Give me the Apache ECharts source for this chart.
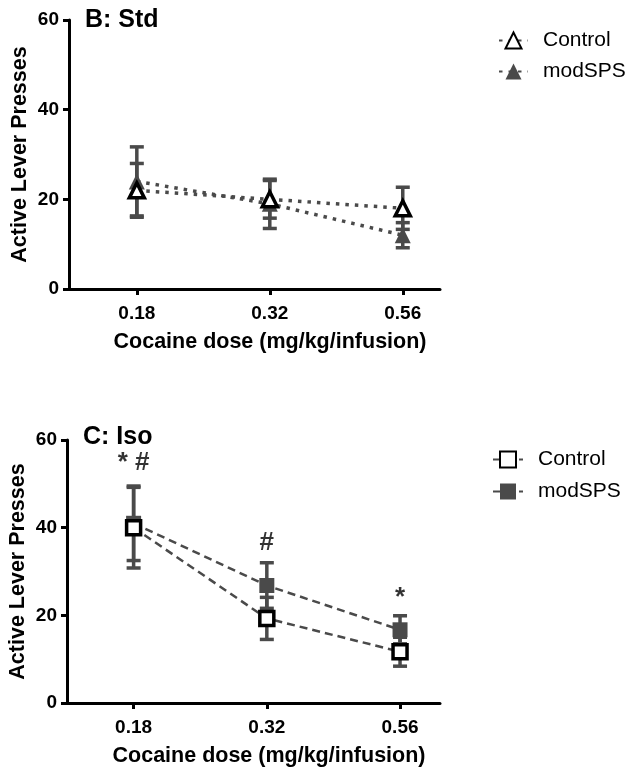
<!DOCTYPE html>
<html><head><meta charset="utf-8">
<script src="https://cdn.jsdelivr.net/npm/echarts@6/dist/echarts.min.js"></script>
<style>html,body{margin:0;padding:0;background:#fff}#c{width:637px;height:776px}</style>
</head><body><div id="c"></div>
<script>
const doses = ['0.18', '0.32', '0.56'];
const xPos = [1, 2, 3];
const yTicks = [0, 20, 40, 60];
// Panel B: Std
const stdControlMean = [22, 20, 18];
const stdControlErr = [6, 4.2, 4.7];
const stdModMean = [24, 19, 12];
const stdModErr = [7.7, 5.5, 2.8];
// Panel C: Iso
const isoControlMean = [40, 19.3, 11.7];
const isoControlErr = [9.2, 4.8, 3.3];
const isoModMean = [41, 26.8, 16.7];
const isoModErr = [8.5, 5.2, 3.2];
const isoAnnotText = ['* #', '#', '*'];
const isoAnnotY = [54.8, 36.6, 24];

const FONT = '"Liberation Sans", Arial, sans-serif';
const GREY = '#4a4a4a';

function pts(mean) { return xPos.map((x, i) => [x, mean[i]]); }
function errs(mean, err) { return xPos.map((x, i) => [x, mean[i] - err[i], mean[i] + err[i]]); }

function errSeries(name, idx, mean, err) {
  return {
    type: 'custom', name: name, xAxisIndex: idx, yAxisIndex: idx, z: 2,
    data: errs(mean, err), silent: true,
    renderItem: function (params, api) {
      const x = api.value(0);
      const lo = api.coord([x, api.value(1)]);
      const hi = api.coord([x, api.value(2)]);
      const w = 7;
      const st = { stroke: GREY, lineWidth: 3.5 };
      return { type: 'group', children: [
        { type: 'line', shape: { x1: lo[0], y1: lo[1], x2: hi[0], y2: hi[1] }, style: st },
        { type: 'line', shape: { x1: lo[0] - w, y1: lo[1], x2: lo[0] + w, y2: lo[1] }, style: st },
        { type: 'line', shape: { x1: hi[0] - w, y1: hi[1], x2: hi[0] + w, y2: hi[1] }, style: st }
      ]};
    }
  };
}

function xAxisDef(idx, min, max) {
  return {
    type: 'value', gridIndex: idx, min: min, max: max,
    axisLine: { show: true, onZero: false, lineStyle: { color: '#000', width: 3 } },
    axisTick: { show: true, length: 6, customValues: xPos, lineStyle: { color: '#000', width: 3 } },
    axisLabel: { customValues: xPos, formatter: v => doses[Math.round(v) - 1], margin: 15,
      color: '#000', fontFamily: FONT, fontWeight: 'bold', fontSize: 19 },
    splitLine: { show: false },
    name: 'Cocaine dose (mg/kg/infusion)', nameLocation: 'middle', nameGap: 42,
    nameTextStyle: { color: '#000', fontFamily: FONT, fontWeight: 'bold', fontSize: 21.5, padding: [0, 0, 0, 31] }
  };
}
function yAxisDef(idx) {
  return {
    type: 'value', gridIndex: idx, min: 0, max: 60, interval: 20,
    axisLine: { show: true, lineStyle: { color: '#000', width: 3 } },
    axisTick: { show: true, length: 6, lineStyle: { color: '#000', width: 3 } },
    axisLabel: { margin: 10, color: '#000', fontFamily: FONT, fontWeight: 'bold', fontSize: 19,
      formatter: v => yTicks.includes(v) ? String(v) : '' },
    splitLine: { show: false },
    name: 'Active Lever Presses', nameLocation: 'middle', nameGap: 38, nameMoveOverlap: false,
    nameTextStyle: { color: '#000', fontFamily: FONT, fontWeight: 'bold', fontSize: 21.5 }
  };
}

const chart = echarts.init(document.getElementById('c'), null, { renderer: 'canvas' });
const legendText = { color: '#000', fontFamily: FONT, fontSize: 21, padding: [0, 0, 0, 10] };
chart.setOption({
  animation: false,
  backgroundColor: '#fff',
  title: [
    { text: 'B: Std', left: 80, top: 3, textStyle: { color: '#000', fontFamily: FONT, fontWeight: 'bold', fontSize: 25 } },
    { text: 'C: Iso', left: 78, top: 420, textStyle: { color: '#000', fontFamily: FONT, fontWeight: 'bold', fontSize: 25 } }
  ],
  grid: [
    { left: 69, width: 371, top: 20, height: 269, containLabel: false, outerBoundsMode: 'none' },
    { left: 67, width: 373, top: 440, height: 263, containLabel: false, outerBoundsMode: 'none' }
  ],
  xAxis: [xAxisDef(0, 0.49, 3.28), xAxisDef(1, 0.5, 3.3)],
  yAxis: [yAxisDef(0), yAxisDef(1)],
  legend: [
    { left: 498, top: 30, padding: 0, orient: 'vertical', itemWidth: 29, itemHeight: 20, itemGap: 10, textStyle: legendText,
      formatter: n => n.split('|')[1], data: ['B|Control', 'B|modSPS'] },
    { left: 492, top: 449, padding: 0, orient: 'vertical', itemWidth: 30, itemHeight: 20, itemGap: 11, textStyle: legendText,
      formatter: n => n.split('|')[1], data: ['C|Control', 'C|modSPS'] }
  ],
  series: [
    errSeries('B|errControl', 0, stdControlMean, stdControlErr),
    errSeries('B|errMod', 0, stdModMean, stdModErr),
    errSeries('C|errControl', 1, isoControlMean, isoControlErr),
    errSeries('C|errMod', 1, isoModMean, isoModErr),
    { type: 'line', name: 'B|modSPS', xAxisIndex: 0, yAxisIndex: 0, z: 3, data: pts(stdModMean),
      symbol: 'triangle', symbolSize: 16, itemStyle: { color: GREY, borderWidth: 0 },
      lineStyle: { color: GREY, width: 3.5, type: [3.5, 6] } },
    { type: 'line', name: 'B|Control', xAxisIndex: 0, yAxisIndex: 0, z: 4, data: pts(stdControlMean),
      symbol: 'triangle', symbolSize: 15, itemStyle: { color: '#fff', borderColor: '#000', borderWidth: 3.5 },
      lineStyle: { color: GREY, width: 3.5, type: [3.5, 6] } },
    { type: 'line', name: 'C|modSPS', xAxisIndex: 1, yAxisIndex: 1, z: 3, data: pts(isoModMean),
      symbol: 'rect', symbolSize: 15, itemStyle: { color: GREY, borderWidth: 0 },
      lineStyle: { color: GREY, width: 2.5, type: [8, 5] } },
    { type: 'line', name: 'C|Control', xAxisIndex: 1, yAxisIndex: 1, z: 4, data: pts(isoControlMean),
      symbol: 'rect', symbolSize: 14, itemStyle: { color: '#fff', borderColor: '#000', borderWidth: 3.5 },
      lineStyle: { color: GREY, width: 2.5, type: [8, 5] } },
    { type: 'scatter', name: 'annot', xAxisIndex: 1, yAxisIndex: 1, z: 5, silent: true,
      symbolSize: 1, itemStyle: { color: 'rgba(0,0,0,0)' },
      data: xPos.map((x, i) => ({ value: [x, isoAnnotY[i]], label: { formatter: isoAnnotText[i] } })),
      label: { show: true, position: 'inside', color: '#000', fontFamily: FONT, fontWeight: 'bold', fontSize: 26 } }
  ]
});
</script></body></html>
